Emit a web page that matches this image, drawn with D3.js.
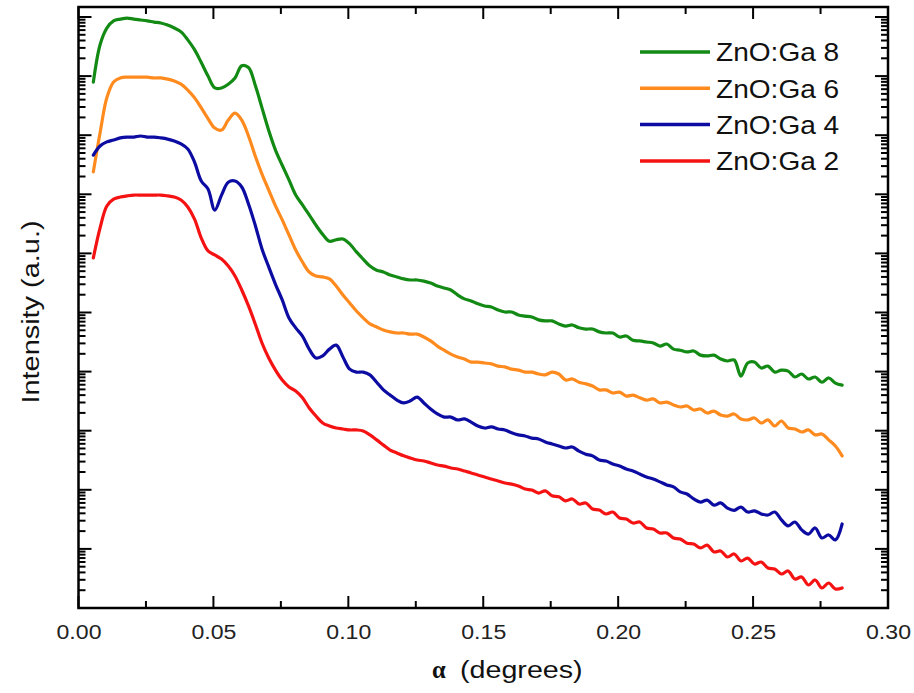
<!DOCTYPE html>
<html>
<head>
<meta charset="utf-8">
<script src="https://cdn.jsdelivr.net/npm/d3@7"></script>
<style>
  body { margin: 0; background: #fff; }
  svg { display: block; }
</style>
</head>
<body>
<svg id="chart" width="914" height="693"></svg>
<script>
// Incidence angle alpha (degrees), shared by all four scans
const alpha = [
  0.0055,0.0080,0.0105,0.0130,0.0155,0.0180,0.0205,0.0230,0.0255,0.0280,
  0.0305,0.0330,0.0355,0.0380,0.0405,0.0430,0.0455,0.0480,0.0505,0.0530,
  0.0555,0.0580,0.0605,0.0630,0.0655,0.0680,0.0705,0.0730,0.0755,0.0780,
  0.0805,0.0830,0.0855,0.0880,0.0905,0.0930,0.0955,0.0980,0.1005,0.1030,
  0.1055,0.1080,0.1105,0.1130,0.1155,0.1180,0.1205,0.1230,0.1255,0.1280,
  0.1305,0.1330,0.1355,0.1380,0.1405,0.1430,0.1455,0.1480,0.1505,0.1530,
  0.1555,0.1580,0.1605,0.1630,0.1655,0.1680,0.1705,0.1730,0.1755,0.1780,
  0.1805,0.1830,0.1855,0.1880,0.1905,0.1930,0.1955,0.1980,0.2005,0.2030,
  0.2055,0.2080,0.2105,0.2130,0.2155,0.2180,0.2205,0.2230,0.2255,0.2280,
  0.2305,0.2330,0.2355,0.2380,0.2405,0.2430,0.2455,0.2480,0.2505,0.2530,
  0.2555,0.2580,0.2605,0.2630,0.2655,0.2680,0.2705,0.2730,0.2755,0.2780,
  0.2805,0.2830
];

// Reflected intensity (a.u.), curves offset by decades for clarity
const zno8 = [
  7.9e8,3.4e9,6.5e9,8.6e9,9.2e9,9.6e9,9.2e9,8.9e9,8.6e9,8.2e9,
  7.9e9,7.3e9,6.5e9,5.6e9,4.1e9,2.8e9,1.7e9,1.0e9,6.3e8,6.3e8,
  7.3e8,9.3e8,1.5e9,1.4e9,7.0e8,2.9e8,1.2e8,5.6e7,3.1e7,1.75e7,
  9.7e6,6.6e6,4.5e6,3.0e6,2.1e6,1.6e6,1.7e6,1.75e6,1.45e6,1.06e6,
  8.0e5,6.1e5,5.2e5,4.85e5,4.3e5,4.0e5,3.7e5,3.55e5,3.55e5,3.4e5,
  3.15e5,2.8e5,2.6e5,2.4e5,1.98e5,1.7e5,1.57e5,1.4e5,1.29e5,1.24e5,
  1.1e5,1.02e5,1.02e5,9.1e4,8.7e4,8.4e4,7.5e4,7.2e4,7.2e4,6.4e4,
  5.9e4,6.15e4,5.5e4,5.25e4,5.25e4,4.7e4,4.5e4,4.5e4,3.85e4,4.0e4,
  3.4e4,3.3e4,3.17e4,3.05e4,2.7e4,2.93e4,2.4e4,2.3e4,2.15e4,2.23e4,
  1.9e4,1.84e4,1.9e4,1.63e4,1.51e4,1.57e4,8.4e3,1.4e4,1.45e4,1.15e4,
  1.24e4,9.8e3,1.06e4,1.02e4,8.1e3,9.1e3,7.5e3,8.1e3,6.6e3,7.8e3,
  6.4e3,5.9e3
];

const zno6 = [
  2.4e7,1.1e8,4.3e8,7.95e8,9.3e8,9.6e8,9.6e8,9.6e8,9.6e8,9.3e8,
  9.3e8,8.9e8,8.3e8,7.3e8,5.8e8,4.3e8,2.9e8,1.9e8,1.32e8,1.22e8,
  1.8e8,2.37e8,1.8e8,9.7e7,4.45e7,2.2e7,1.18e7,6.35e6,3.7e6,2.05e6,
  1.14e6,7.15e5,4.85e5,4.15e5,4.0e5,3.7e5,2.8e5,1.98e5,1.45e5,1.06e5,
  8.1e4,6.4e4,5.7e4,5.05e4,4.7e4,4.5e4,4.5e4,4.3e4,4.3e4,3.85e4,
  3.3e4,2.7e4,2.3e4,1.98e4,1.77e4,1.63e4,1.45e4,1.45e4,1.4e4,1.35e4,
  1.24e4,1.2e4,1.1e4,1.06e4,9.8e3,9.8e3,9.1e3,8.8e3,9.8e3,9.1e3,
  7.2e3,7.5e3,6.6e3,6.2e3,5.7e3,4.9e3,4.9e3,4.35e3,4.5e3,3.85e3,
  4.0e3,3.6e3,3.3e3,3.45e3,2.95e3,3.05e3,2.73e3,2.52e3,2.62e3,2.24e3,
  2.33e3,1.99e3,2.15e3,1.84e3,1.77e3,1.92e3,1.58e3,1.52e3,1.64e3,1.35e3,
  1.52e3,1.2e3,1.46e3,1.11e3,1.07e3,9.5e2,1.03e3,8.5e2,8.8e2,7.0e2,
  5.5e2,3.75e2
];

const zno4 = [
  4.6e7,6.55e7,7.7e7,8.3e7,9.0e7,9.3e7,9.3e7,9.7e7,9.3e7,9.3e7,
  9.0e7,8.6e7,8.0e7,7.1e7,5.85e7,3.5e7,1.68e7,1.23e7,5.4e6,9.7e6,
  1.6e7,1.68e7,1.33e7,6.85e6,3.0e6,1.19e6,5.9e5,3.0e5,1.63e5,8.1e4,
  5.5e4,4.0e4,2.4e4,1.7e4,1.84e4,2.4e4,2.8e4,1.77e4,1.1e4,9.8e3,
  9.8e3,8.8e3,6.6e3,4.9e3,4.0e3,3.3e3,2.95e3,3.2e3,3.7e3,2.95e3,
  2.33e3,1.92e3,1.7e3,1.7e3,1.52e3,1.58e3,1.4e3,1.2e3,1.11e3,1.16e3,
  1.07e3,1.03e3,9.2e2,8.5e2,8.15e2,7.5e2,7.25e2,6.45e2,5.95e2,5.5e2,
  5.1e2,5.3e2,4.5e2,4.0e2,3.75e2,3.2e2,3.07e2,2.73e2,2.52e2,2.25e2,
  2.08e2,1.85e2,1.65e2,1.52e2,1.36e2,1.21e2,1.12e2,92,85,70,
  62,67,55,60,49,45,51,42,44,39,
  37.5,42,31,24.5,28.5,21,17.8,22.6,15.3,17.2,
  14.2,26.4
];

const zno2 = [
  8.4e5,2.7e6,6.35e6,8.3e6,9.0e6,9.4e6,9.7e6,9.7e6,9.7e6,9.7e6,
  9.7e6,9.4e6,9.0e6,8.0e6,6.1e6,3.8e6,1.82e6,1.1e6,9.4e5,8.0e5,
  6.1e5,4.15e5,2.4e5,1.29e5,6.4e4,3.05e4,1.7e4,1.06e4,7.2e3,5.5e3,
  4.7e3,3.6e3,2.42e3,1.77e3,1.35e3,1.2e3,1.11e3,1.07e3,1.03e3,1.03e3,
  9.9e2,8.5e2,7.0e2,5.7e2,4.7e2,4.2e2,3.75e2,3.45e2,3.2e2,3.07e2,
  2.85e2,2.63e2,2.52e2,2.34e2,2.25e2,2.08e2,1.93e2,1.78e2,1.65e2,1.52e2,
  1.41e2,1.3e2,1.25e2,1.16e2,1.03e2,99,88,96,79,76,
  65,70,57.5,60,47.3,45.4,39,42,33.3,32,
  27.4,28.5,22.6,21.7,18.6,18.6,15.3,14.7,12.5,12.1,
  10.4,11.6,8.9,9.2,7.3,8.2,6.25,7.0,5.55,6.0,
  4.75,4.57,3.76,4.23,3.09,3.35,2.45,2.98,2.18,2.65,
  2.1,2.18
];

const seriesNames  = ["ZnO:Ga 8", "ZnO:Ga 6", "ZnO:Ga 4", "ZnO:Ga 2"];
const seriesColors = ["#128a14", "#ff8a1e", "#0c0ca2", "#f51212"];
const seriesValues = [zno8, zno6, zno4, zno2];

const xMajorTicks = [0, 0.05, 0.10, 0.15, 0.20, 0.25, 0.30];
const xMinorTicks = [0.025, 0.075, 0.125, 0.175, 0.225, 0.275];
const xTickLabels = ["0.00", "0.05", "0.10", "0.15", "0.20", "0.25", "0.30"];
const yMajorTicks = [1e1, 1e2, 1e3, 1e4, 1e5, 1e6, 1e7, 1e8, 1e9, 1e10];

// ---- layout ----
const svg = d3.select("#chart");
const plot = { left: 78.5, right: 888, top: 7, bottom: 608 };
const sansFont = "'Liberation Sans', Arial, Helvetica, sans-serif";

const x = d3.scaleLinear().domain([0, 0.30]).range([plot.left, plot.right]);
const y = d3.scaleLog().domain([1, 1.476e10]).range([plot.bottom, plot.top]);

// log minor ticks: 2..9 within every decade of the domain
const yMinorTicks = [];
[1].concat(yMajorTicks).forEach(decade => {
  for (let m = 2; m <= 9; m++) {
    const v = m * decade;
    if (v < y.domain()[1]) yMinorTicks.push(v);
  }
});

svg.append("defs").append("clipPath").attr("id", "plot-clip")
  .append("rect")
  .attr("x", plot.left).attr("y", plot.top)
  .attr("width", plot.right - plot.left).attr("height", plot.bottom - plot.top);

// ---- curves ----
const line = d3.line()
  .x((d, i) => x(alpha[i]))
  .y(d => y(d))
  .curve(d3.curveCatmullRom.alpha(0.5));

svg.append("g").attr("clip-path", "url(#plot-clip)")
  .selectAll("path")
  .data(seriesValues)
  .join("path")
  .attr("d", d => line(d))
  .attr("fill", "none")
  .attr("stroke", (d, i) => seriesColors[i])
  .attr("stroke-width", 3.2)
  .attr("stroke-linejoin", "round")
  .attr("stroke-linecap", "round");

// ---- ticks, pointing inward on all four sides ----
const tickLayer = svg.append("g")
  .attr("stroke", "#000").attr("stroke-width", 2);

function xTicks(values, len) {
  tickLayer.append("g").selectAll("line").data(values).join("line")
    .attr("x1", d => x(d)).attr("x2", d => x(d))
    .attr("y1", plot.bottom).attr("y2", plot.bottom - len);
  tickLayer.append("g").selectAll("line").data(values).join("line")
    .attr("x1", d => x(d)).attr("x2", d => x(d))
    .attr("y1", plot.top).attr("y2", plot.top + len);
}
function yTicks(values, len) {
  tickLayer.append("g").selectAll("line").data(values).join("line")
    .attr("y1", d => y(d)).attr("y2", d => y(d))
    .attr("x1", plot.left).attr("x2", plot.left + len);
  tickLayer.append("g").selectAll("line").data(values).join("line")
    .attr("y1", d => y(d)).attr("y2", d => y(d))
    .attr("x1", plot.right).attr("x2", plot.right - len);
}
xTicks(xMajorTicks, 12);
xTicks(xMinorTicks, 7);
yTicks(yMajorTicks, 13);
yTicks(yMinorTicks, 7);

// x tick labels from the bottom axis generator
const gBottom = svg.append("g")
  .attr("transform", `translate(0,${plot.bottom})`)
  .call(d3.axisBottom(x).tickValues(xMajorTicks).tickSize(0)
    .tickFormat((d, i) => xTickLabels[i]));
gBottom.select(".domain").remove();
gBottom.selectAll(".tick line").remove();
gBottom.selectAll(".tick text")
  .attr("y", null).attr("dy", null)
  .attr("transform", "translate(0,31) scale(1.1,1)")
  .attr("fill", "#222")
  .style("font-family", sansFont)
  .style("font-size", "21px");

// frame
svg.append("rect")
  .attr("x", plot.left).attr("y", plot.top)
  .attr("width", plot.right - plot.left).attr("height", plot.bottom - plot.top)
  .attr("fill", "none").attr("stroke", "#000").attr("stroke-width", 2.5);

// ---- axis titles ----
svg.append("text")
  .attr("x", 432).attr("y", 678)
  .style("font-size", "24.5px").attr("fill", "#111")
  .style("font-family", "'Liberation Serif', 'DejaVu Serif', serif")
  .style("font-weight", "bold")
  .text("α");
svg.append("text")
  .attr("transform", "translate(460,678) scale(1.17,1)")
  .style("font-family", sansFont).style("font-size", "24.5px")
  .attr("fill", "#111")
  .text("(degrees)");

svg.append("text")
  .attr("transform", "translate(39,312) rotate(-90) scale(1.18,1)")
  .attr("text-anchor", "middle")
  .style("font-family", sansFont).style("font-size", "24.5px")
  .attr("fill", "#111")
  .text("Intensity (a.u.)");

// ---- legend ----
const legend = svg.append("g")
  .selectAll("g")
  .data(seriesNames)
  .join("g")
  .attr("transform", (d, i) => `translate(640,${52 + i * 36.3})`);

legend.append("line")
  .attr("x1", 0).attr("x2", 70).attr("y1", 0).attr("y2", 0)
  .attr("stroke", (d, i) => seriesColors[i])
  .attr("stroke-width", 3.5);

legend.append("text")
  .attr("transform", "translate(76,9.3) scale(1.08,1)")
  .style("font-family", sansFont).style("font-size", "26px")
  .attr("fill", "#111")
  .text(d => d);
</script>
</body>
</html>
